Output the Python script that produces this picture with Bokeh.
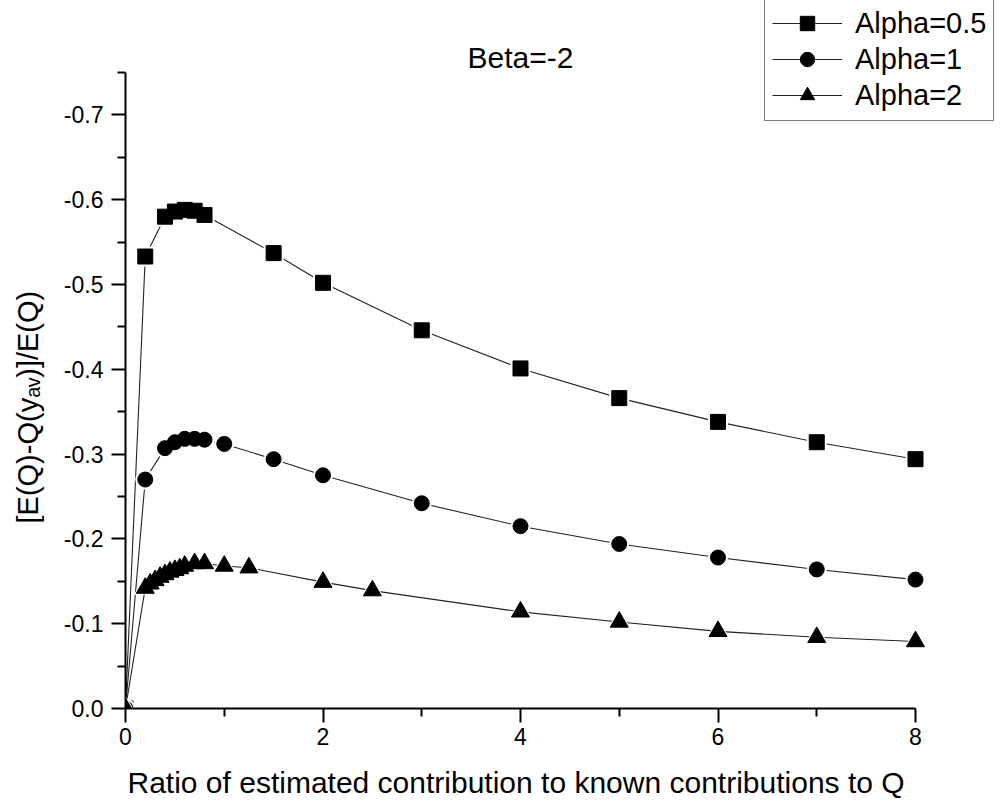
from bokeh.plotting import figure
from bokeh.models import (Range1d, FixedTicker, PrintfTickFormatter, Label, Legend,
                          LegendItem, Title, LinearAxis, CustomJSTickFormatter)
from bokeh.embed import file_html
from bokeh.resources import INLINE

# ---------------- data ----------------
title_text = "Beta=-2"
x_label = "Ratio of estimated contribution to known contributions to Q"
y_label = "[E(Q)-Q(y\u2090\u1d65)]/E(Q)"

x_major = [0, 2, 4, 6, 8]
x_minor = [1, 3, 5, 7]
y_major = [0.0, -0.1, -0.2, -0.3, -0.4, -0.5, -0.6, -0.7]
y_minor = [-0.05, -0.15, -0.25, -0.35, -0.45, -0.55, -0.65, -0.75]
x_axis_bounds = (0, 8)
y_axis_bounds = (0, -0.75)

labels = ["Alpha=0.5", "Alpha=1", "Alpha=2"]

x_a05 = [0, 0.2, 0.4, 0.5, 0.6, 0.7, 0.8, 1.5, 2, 3, 4, 5, 6, 7, 8]
y_a05 = [0, -0.533, -0.580, -0.586, -0.588, -0.587, -0.582, -0.537, -0.502,
         -0.446, -0.401, -0.366, -0.338, -0.314, -0.294]

x_a1 = [0, 0.2, 0.4, 0.5, 0.6, 0.7, 0.8, 1, 1.5, 2, 3, 4, 5, 6, 7, 8]
y_a1 = [0, -0.270, -0.307, -0.314, -0.318, -0.318, -0.317, -0.312, -0.294,
        -0.275, -0.242, -0.215, -0.194, -0.178, -0.164, -0.152]

x_a2 = [0, 0.2, 0.25, 0.3, 0.35, 0.4, 0.45, 0.5, 0.55, 0.6, 0.7, 0.8, 1, 1.25,
        2, 2.5, 4, 5, 6, 7, 8]
y_a2 = [0, -0.142, -0.147, -0.151, -0.155, -0.158, -0.161, -0.163, -0.165,
        -0.168, -0.171, -0.171, -0.168, -0.166, -0.149, -0.139, -0.114,
        -0.102, -0.091, -0.084, -0.079]

# ---------------- figure ----------------
FONT = "Liberation Sans"
W, H = 1000, 803
LEFT, BOTTOM = 125, 95
# frame spans the whole area right of / above the axes; axes are bounded to the data extent
px_per_x = 790 / 8.0
px_per_y = 636 / 0.75
x_end = 8 + 85 / px_per_x
y_end = -(0.75 + 72 / px_per_y)

p = figure(width=W, height=H, output_backend="svg", toolbar_location=None, title=None,
           x_range=Range1d(0, x_end), y_range=Range1d(0, y_end),
           min_border_left=LEFT, min_border_right=0, min_border_top=0,
           min_border_bottom=BOTTOM)
p.outline_line_color = None
p.grid.visible = False

for ax in (p.xaxis[0], p.yaxis[0]):
    ax.axis_line_width = 2
    ax.axis_line_color = "black"
    ax.major_tick_line_width = 2
    ax.minor_tick_line_width = 2
    ax.major_tick_in = 0
    ax.major_tick_out = 14
    ax.minor_tick_in = 0
    ax.minor_tick_out = 8
    ax.major_label_text_font = FONT
    ax.major_label_text_font_size = "23px"
    ax.major_label_text_color = "black"

p.xaxis.bounds = x_axis_bounds
p.yaxis.bounds = y_axis_bounds
p.xaxis.ticker = FixedTicker(ticks=x_major, minor_ticks=x_minor)
p.yaxis.ticker = FixedTicker(ticks=y_major, minor_ticks=y_minor)
p.yaxis.formatter = PrintfTickFormatter(format="%.1f")
p.xaxis.major_label_standoff = 5
p.yaxis.major_label_standoff = 8


def spacer(size, tick_at):
    """An invisible axis (transparent tick, empty label) that only reserves panel space."""
    a = LinearAxis(ticker=FixedTicker(ticks=[tick_at], minor_ticks=[]),
                   formatter=CustomJSTickFormatter(code="return ''"))
    a.axis_line_color = None
    a.major_tick_in = 0
    a.major_tick_out = size
    a.major_tick_line_alpha = 0
    a.minor_tick_in = 0
    a.minor_tick_out = 0
    a.major_label_standoff = 0
    return a


p.add_layout(spacer(15, 4), "below")
p.add_layout(spacer(15, -0.4), "left")

# axis titles as side-panel titles so they can be aligned to the bounded axes
xt = Title(text=x_label, align="left", offset=2, text_font=FONT, text_font_size="30px",
           text_font_style="normal", text_color="black", standoff=2)
p.add_layout(xt, "below")
yt = Title(text=y_label, align="left", offset=185, text_font=FONT, text_font_size="29px",
           text_font_style="normal", text_color="black", standoff=4)
p.add_layout(yt, "left")

series = [
    (x_a05, y_a05, "square", 15),
    (x_a1, y_a1, "circle", 15),
    (x_a2, y_a2, "triangle", 18),
]
items = []
for (xs, ys, mk, sz), lab in zip(series, labels):
    ln = p.line(xs, ys, line_color="#222222", line_width=1.1)
    p.scatter(xs, ys, marker=mk, size=sz + 5, fill_color="white", line_color=None)
    sc = p.scatter(xs, ys, marker=mk, size=sz, fill_color="black", line_color="black")
    items.append(LegendItem(label=lab, renderers=[ln, sc]))

legend = Legend(items=items, location=(639, 587))
legend.glyph_width = 70
legend.glyph_height = 36
legend.label_height = 36
legend.label_standoff = 13
legend.padding = 7
legend.spacing = 0
legend.margin = 0
legend.border_line_color = "black"
legend.border_line_width = 1.5
legend.background_fill_color = "white"
legend.background_fill_alpha = 1
legend.label_text_font = FONT
legend.label_text_font_size = "29px"
legend.label_text_color = "black"
p.add_layout(legend)

# chart title (inside the extended frame, above the plotted region)
p.add_layout(Label(x=395, y=651, x_units="screen", y_units="screen", text=title_text,
                   text_align="center", text_baseline="alphabetic",
                   text_font=FONT, text_font_size="30px", text_color="black"))

open("out.html", "w").write(file_html(p, INLINE))
